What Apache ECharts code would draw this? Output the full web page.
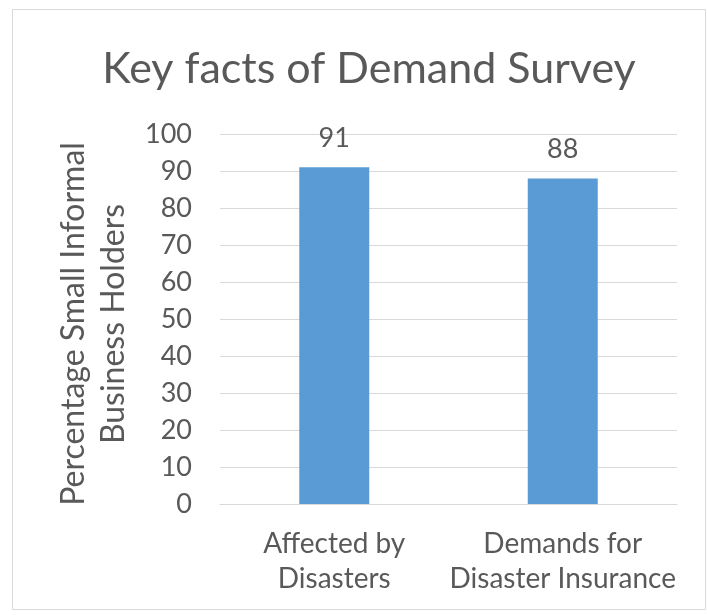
<!DOCTYPE html>
<html><head><meta charset="utf-8">
<script src="https://cdn.jsdelivr.net/npm/echarts@6/dist/echarts.min.js"></script>
<style>html,body{margin:0;padding:0;background:#fff}#c{width:707px;height:615px}</style>
</head><body><div id="c"></div>
<script>
const categories = ['Affected by\nDisasters', 'Demands for\nDisaster Insurance'];
const values = [91, 88];
const titleText = 'Key facts of Demand Survey';
const yAxisName = 'Percentage Small Informal\nBusiness Holders';

const chart = echarts.init(document.getElementById('c'));
const F = 'Lato, Carlito, sans-serif';
const G = '#595959';
chart.setOption({
  animation: false,
  backgroundColor: '#fff',
  title: {
    text: titleText, left: 364, top: 43, textAlign: 'center',
    textStyle: { fontFamily: F, fontSize: 43, fontWeight: 'normal', color: G }
  },
  graphic: [{
    type: 'rect', shape: { x: 12.5, y: 9.5, width: 693, height: 600 },
    style: { fill: 'none', stroke: '#d9d9d9', lineWidth: 1 }, silent: true
  }],
  grid: { left: 220, right: 30, top: 134, bottom: 111 },
  xAxis: {
    type: 'category', data: categories,
    axisLine: { lineStyle: { color: '#d9d9d9', width: 1 } },
    axisTick: { show: false },
    axisLabel: { interval: 0, fontFamily: F, fontSize: 28, color: G, lineHeight: 35, margin: 22 }
  },
  yAxis: {
    type: 'value', min: 0, max: 100, interval: 10,
    name: yAxisName, nameLocation: 'middle', nameGap: 83, nameRotate: 90,
    nameTextStyle: { fontFamily: F, fontSize: 32, color: G, lineHeight: 40, padding: [0, 10, 0, 0] },
    axisLine: { show: false }, axisTick: { show: false },
    axisLabel: { fontFamily: F, fontSize: 27, color: G, margin: 28 },
    splitLine: { lineStyle: { color: '#d9d9d9', width: 1 } }
  },
  series: [{
    type: 'bar', data: values, barWidth: 70,
    itemStyle: { color: '#5B9BD5' },
    label: { show: true, position: 'top', distance: 16, fontFamily: F, fontSize: 27, color: G }
  }]
});
</script></body></html>
